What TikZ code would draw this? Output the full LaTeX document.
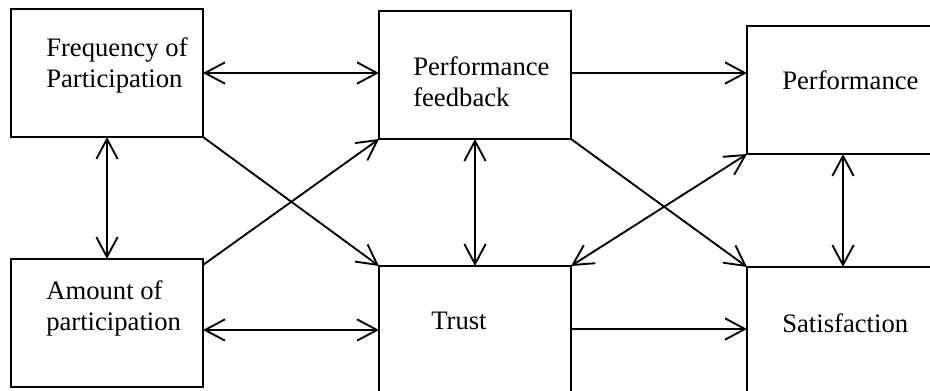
\documentclass[tikz,border=0pt]{standalone}
\usepackage{fontspec}
\setmainfont{Liberation Serif}
\usetikzlibrary{arrows.meta}
\begin{document}
\begin{tikzpicture}[x=0.75pt,y=-0.75pt,
  box/.style={draw, line width=1.4pt, inner sep=0pt, outer sep=0pt, anchor=north west},
  lbl/.style={inner sep=0pt, anchor=base west, align=left,
    font=\fontsize{20}{23.25}\selectfont},
  conn/.style={line width=1.4pt},
  tip/.tip={Straight Barb[length=15pt,width=16pt]},
  both/.style={conn, tip-tip},
  one/.style={conn, -tip}]
\useasboundingbox (0,0) rectangle (930,391);
\clip (0,0) rectangle (930,391);

% boxes
\node[box, minimum width=144pt, minimum height=96pt] (fp) at (11,9) {};
\node[box, minimum width=144pt, minimum height=96pt] (ap) at (11,259) {};
\node[box, minimum width=144pt, minimum height=96pt] (pf) at (379,11) {};
\node[box, minimum width=144pt, minimum height=105pt] (tr) at (379,266) {};
\node[box, minimum width=150pt, minimum height=96pt] (pe) at (747,26) {};
\node[box, minimum width=150pt, minimum height=105pt] (sa) at (747,267) {};

% labels (base anchor sits on the last line)
\node[lbl] (fpt) at (46,88) {Frequency of\\Participation};
\node[lbl] (apt) at (46,330) {Amount of\\participation};
\node[lbl] (pft) at (413,107) {Performance\\feedback};
\node[lbl] (trt) at (431,329) {Trust};
\node[lbl] (pet) at (782,90) {Performance};
\node[lbl] (sat) at (782,332) {Satisfaction};

% connectors
\draw[both] (fp.east) -- (fp.east -| pf.west);
\draw[both] ([shift={(0,7)}]ap.east) -- ([shift={(0,7)}]ap.east -| tr.west);
\draw[one] ([shift={(0,-2)}]pf.east) -- ([shift={(0,-2)}]pf.east -| pe.west);
\draw[one] ([shift={(0,63)}]tr.north east) -- ([shift={(0,63)}]tr.north east -| sa.west);

\draw[both] (fp.south) -- (ap.north);
\draw[both] (pf.south) -- (pf.south |- tr.north);
\draw[both] ([shift={(96,0)}]pe.south west) -- ([shift={(96,0)}]pe.south west |- sa.north);

\draw[one] (fp.south east) -- (tr.north west);
\draw[one] ([shift={(0,6)}]ap.north east) -- (pf.south west);
\draw[one] (pf.south east) -- (sa.north west);
\draw[both] (pe.south west) -- (tr.north east);
\end{tikzpicture}
\end{document}
